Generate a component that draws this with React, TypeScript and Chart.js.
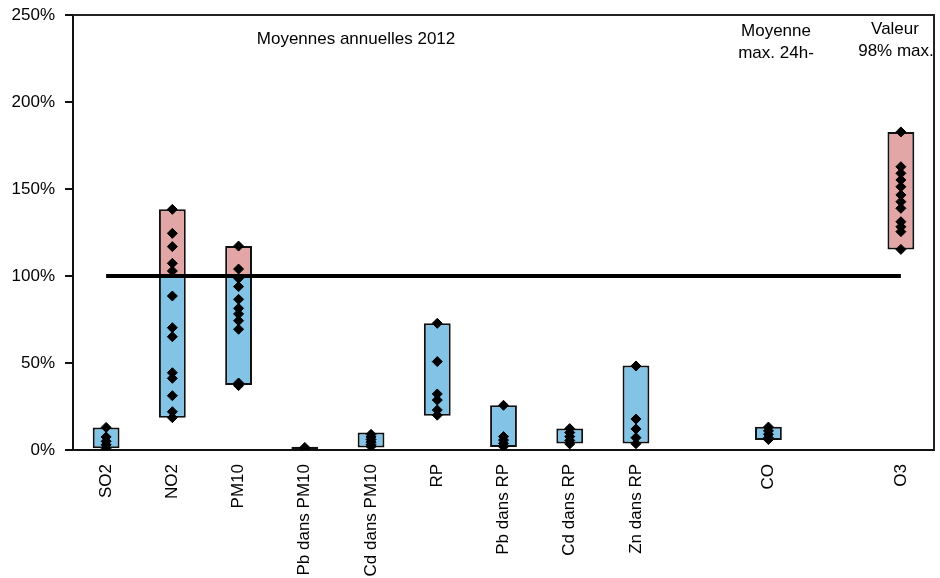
import React, { useEffect, useRef } from "react";
import { Chart, registerables } from "chart.js";

Chart.register(...registerables);

const categories = [
  "SO2", "NO2", "PM10", "Pb dans PM10", "Cd dans PM10", "RP",
  "Pb dans RP", "Cd dans RP", "Zn dans RP", "", "CO", "", "O3",
];
const rangeLow: (number | null)[] = [1, 18.6, 37.4, 0, 1.5, 19.7, 1.7, 3.8, 3.8, null, 5.7, null, 115.3];
const rangeHigh: (number | null)[] = [13, 138.3, 117.2, 1.9, 10, 72.8, 25.7, 12.3, 48.5, null, 13.4, null, 182.8];
const limitValue = 100;
const yTicks = [0, 50, 100, 150, 200, 250];

const so2Values = [13, 7.5, 5, 3, 1];
const no2Values = [138.3, 124.5, 116.9, 107.3, 102.9, 88.5, 70.3, 65.1, 44.4, 41.2, 31.2, 22, 18.6];
const pm10Values = [117.2, 104, 98.7, 93.9, 86.6, 81.4, 78.2, 74.3, 69.4, 38.5, 37];
const pbPm10Values = [1.5, 0.5];
const cdPm10Values = [9, 7.5, 6, 4.5, 3, 2];
const rpValues = [72.8, 50.8, 32.2, 28.7, 23, 20];
const pbRpValues = [25.7, 7.7, 5.7, 3.8, 1.9];
const cdRpValues = [12.3, 10, 7.7, 5.5, 3.5];
const znRpValues = [48.3, 17.8, 12.1, 7.1, 3.6];
const coValues = [13.2, 11, 9, 7, 6];
const o3Values = [182.8, 162.8, 159, 155.2, 151.3, 146.6, 142.7, 138.9, 131.2, 128.3, 125.5, 115.3];

const stationSeries: [string, number[]][] = [
  ["SO2", so2Values],
  ["NO2", no2Values],
  ["PM10", pm10Values],
  ["Pb dans PM10", pbPm10Values],
  ["Cd dans PM10", cdPm10Values],
  ["RP", rpValues],
  ["Pb dans RP", pbRpValues],
  ["Cd dans RP", cdRpValues],
  ["Zn dans RP", znRpValues],
  ["CO", coValues],
  ["O3", o3Values],
];

const FONT = "'Liberation Sans', Arial, sans-serif";
const FONT_SIZE = 17;

export default function App() {
  const ref = useRef<HTMLCanvasElement | null>(null);

  useEffect(() => {
    document.body.style.margin = "0";
    if (!ref.current) return;

    const below = categories.map((_, i) => {
      const lo = rangeLow[i], hi = rangeHigh[i];
      if (lo == null || hi == null || lo >= limitValue) return null;
      return [lo, Math.min(hi, limitValue)];
    });
    const above = categories.map((_, i) => {
      const lo = rangeLow[i], hi = rangeHigh[i];
      if (lo == null || hi == null || hi <= limitValue) return null;
      return [Math.max(lo, limitValue), hi];
    });
    const points: { x: string; y: number }[] = [];
    stationSeries.forEach(([cat, vals]) => vals.forEach((v) => points.push({ x: cat, y: v })));

    const framePlugin = {
      id: "frame",
      afterDraw(chart: any) {
        const { ctx, chartArea } = chart;
        ctx.save();
        ctx.strokeStyle = "#222";
        ctx.lineWidth = 2;
        ctx.beginPath();
        ctx.moveTo(chartArea.left, chartArea.top);
        ctx.lineTo(chartArea.right, chartArea.top);
        ctx.lineTo(chartArea.right, chartArea.bottom);
        ctx.stroke();
        ctx.fillStyle = "#000";
        ctx.font = `${FONT_SIZE}px ${FONT}`;
        ctx.textAlign = "center";
        ctx.textBaseline = "middle";
        ctx.fillText("Moyennes annuelles 2012", 356, 39);
        ctx.fillText("Moyenne", 776, 31);
        ctx.fillText("max. 24h-", 776, 53);
        ctx.fillText("Valeur", 895, 29);
        ctx.fillText("98% max.", 896, 51);
        ctx.restore();
      },
    };

    const chart = new Chart(ref.current, {
      type: "bar",
      data: {
        labels: categories,
        datasets: [
          {
            type: "bar",
            label: "below",
            data: below as any,
            backgroundColor: "#82C3E6",
            borderColor: "#111",
            borderWidth: 2,
            borderSkipped: false,
            grouped: false,
            barPercentage: 0.405,
            categoryPercentage: 1,
            order: 4,
          } as any,
          {
            type: "bar",
            label: "above",
            data: above as any,
            backgroundColor: "#E2A6A6",
            borderColor: "#111",
            borderWidth: 2,
            borderSkipped: false,
            grouped: false,
            barPercentage: 0.405,
            categoryPercentage: 1,
            order: 3,
          } as any,
          {
            type: "line",
            label: "limit",
            data: [
              { x: "SO2", y: limitValue },
              { x: "O3", y: limitValue },
            ] as any,
            borderColor: "#000",
            borderWidth: 4,
            pointRadius: 0,
            order: 2,
          } as any,
          {
            type: "line",
            label: "stations",
            data: points as any,
            showLine: false,
            pointStyle: "rectRot",
            pointRadius: 5,
            pointBackgroundColor: "#000",
            pointBorderColor: "#000",
            pointBorderWidth: 1,
            order: 1,
          } as any,
        ],
      },
      options: {
        animation: false,
        responsive: true,
        maintainAspectRatio: false,
        layout: { padding: { top: 15, right: 1, left: 0, bottom: 0 } },
        plugins: {
          legend: { display: false },
          tooltip: { enabled: false },
        },
        scales: {
          x: {
            type: "category",
            offset: true,
            grid: { display: false },
            border: { display: true, color: "#111", width: 2 },
            ticks: {
              autoSkip: false,
              minRotation: 90,
              maxRotation: 90,
              padding: 6,
              color: "#000",
              font: { family: FONT, size: FONT_SIZE },
            },
            afterFit: (s: any) => {
              s.height = 128;
            },
          },
          y: {
            min: 0,
            max: 250,
            afterBuildTicks: (s: any) => {
              s.ticks = yTicks.map((v) => ({ value: v }));
            },
            grid: {
              drawOnChartArea: false,
              drawTicks: true,
              tickLength: 8,
              color: "#111",
              lineWidth: 2,
            },
            border: { display: true, color: "#111", width: 2 },
            ticks: {
              padding: 10,
              color: "#000",
              font: { family: FONT, size: FONT_SIZE },
              callback: (v: any) => `${v}%`,
            },
            afterFit: (s: any) => {
              s.width = 73;
              s.paddingTop = 4;
              s.paddingBottom = 4;
            },
          },
        },
      },
      plugins: [framePlugin],
    });

    return () => chart.destroy();
  }, []);

  return (
    <div style={{ position: "relative", width: 940, height: 578 }}>
      <canvas ref={ref} />
    </div>
  );
}
